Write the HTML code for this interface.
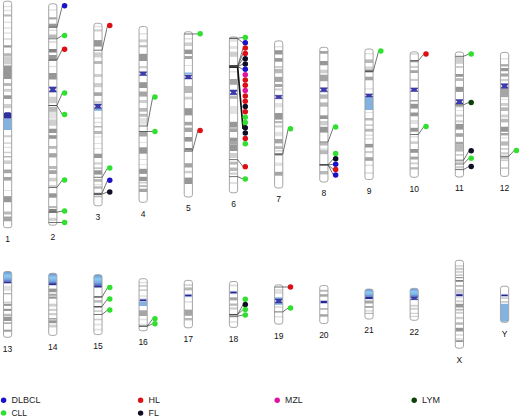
<!DOCTYPE html>
<html><head><meta charset="utf-8"><style>
html,body{margin:0;padding:0;background:#fff;}
body{width:520px;height:417px;overflow:hidden;font-family:"Liberation Sans",sans-serif;}
svg{display:block;font-family:"Liberation Sans",sans-serif;}
</style></head><body>
<svg width="520" height="417" viewBox="0 0 520 417">
<defs>
<linearGradient id="acro" x1="0" y1="0" x2="0" y2="1"><stop offset="0" stop-color="#b4d6f2"/><stop offset="0.18" stop-color="#6a9cd8"/><stop offset="0.5" stop-color="#8ecaf2"/><stop offset="0.8" stop-color="#78acE4"/><stop offset="1" stop-color="#4c6cc4"/></linearGradient>
<clipPath id="c1"><rect x="3.50" y="1.2" width="8.20" height="226.60" rx="2.6" ry="2.2"/></clipPath>
<clipPath id="c2"><rect x="48.68" y="3.8" width="8.20" height="221.40" rx="2.6" ry="2.2"/></clipPath>
<clipPath id="c3"><rect x="93.86" y="23.3" width="8.20" height="182.50" rx="2.6" ry="2.2"/></clipPath>
<clipPath id="c4"><rect x="139.04" y="26.5" width="8.20" height="175.80" rx="2.6" ry="2.2"/></clipPath>
<clipPath id="c5"><rect x="184.22" y="31.8" width="8.20" height="165.20" rx="2.6" ry="2.2"/></clipPath>
<clipPath id="c6"><rect x="229.40" y="36.9" width="8.20" height="155.90" rx="2.6" ry="2.2"/></clipPath>
<clipPath id="c7"><rect x="274.58" y="40.9" width="8.20" height="147.10" rx="2.6" ry="2.2"/></clipPath>
<clipPath id="c8"><rect x="319.76" y="47.3" width="8.20" height="134.70" rx="2.6" ry="2.2"/></clipPath>
<clipPath id="c9"><rect x="364.94" y="49" width="8.20" height="130.50" rx="2.6" ry="2.2"/></clipPath>
<clipPath id="c10"><rect x="410.12" y="51.9" width="8.20" height="125.40" rx="2.6" ry="2.2"/></clipPath>
<clipPath id="c11"><rect x="455.30" y="52" width="8.20" height="125.00" rx="2.6" ry="2.2"/></clipPath>
<clipPath id="c12"><rect x="500.48" y="52.4" width="8.20" height="124.00" rx="2.6" ry="2.2"/></clipPath>
<clipPath id="c13"><rect x="3.50" y="271.5" width="8.20" height="65.80" rx="2.6" ry="2.2"/></clipPath>
<clipPath id="c14"><rect x="48.68" y="273.3" width="8.20" height="62.10" rx="2.6" ry="2.2"/></clipPath>
<clipPath id="c15"><rect x="93.86" y="274.7" width="8.20" height="59.90" rx="2.6" ry="2.2"/></clipPath>
<clipPath id="c16"><rect x="139.04" y="278.7" width="8.20" height="52.10" rx="2.6" ry="2.2"/></clipPath>
<clipPath id="c17"><rect x="184.22" y="280.4" width="8.20" height="47.40" rx="2.6" ry="2.2"/></clipPath>
<clipPath id="c18"><rect x="229.40" y="281.5" width="8.20" height="45.90" rx="2.6" ry="2.2"/></clipPath>
<clipPath id="c19"><rect x="274.58" y="284.9" width="8.20" height="39.20" rx="2.6" ry="2.2"/></clipPath>
<clipPath id="c20"><rect x="319.76" y="285.5" width="8.20" height="38.00" rx="2.6" ry="2.2"/></clipPath>
<clipPath id="c21"><rect x="364.94" y="289.1" width="8.20" height="29.90" rx="2.6" ry="2.2"/></clipPath>
<clipPath id="c22"><rect x="410.12" y="288.4" width="8.20" height="31.90" rx="2.6" ry="2.2"/></clipPath>
<clipPath id="cX"><rect x="455.30" y="260.3" width="8.20" height="87.90" rx="2.6" ry="2.2"/></clipPath>
<clipPath id="cY"><rect x="500.48" y="286.2" width="8.20" height="36.10" rx="2.6" ry="2.2"/></clipPath>
</defs>
<g clip-path="url(#c1)">
<rect x="3.50" y="1.2" width="8.20" height="226.60" fill="#fff"/>
<rect x="3.50" y="5.8" width="8.20" height="1.40" fill="#e2e2e2"/>
<rect x="3.50" y="9.8" width="8.20" height="1.40" fill="#e2e2e2"/>
<rect x="3.50" y="14.4" width="8.20" height="2.10" fill="#b9b9b9"/>
<rect x="3.50" y="21.6" width="8.20" height="1.40" fill="#e2e2e2"/>
<rect x="3.50" y="27.3" width="8.20" height="1.50" fill="#e2e2e2"/>
<rect x="3.50" y="32.4" width="8.20" height="1.40" fill="#e2e2e2"/>
<rect x="3.50" y="38" width="8.20" height="2.00" fill="#e2e2e2"/>
<rect x="3.50" y="45.3" width="8.20" height="2.20" fill="#979797"/>
<rect x="3.50" y="53.2" width="8.20" height="3.20" fill="#b9b9b9"/>
<rect x="3.50" y="56.4" width="8.20" height="8.00" fill="#cfcfcf"/>
<rect x="3.50" y="65.5" width="8.20" height="13.50" fill="#979797"/>
<rect x="3.50" y="83" width="8.20" height="3.00" fill="#b9b9b9"/>
<rect x="3.50" y="88.8" width="8.20" height="2.90" fill="#cfcfcf"/>
<rect x="3.50" y="95.3" width="8.20" height="3.60" fill="#979797"/>
<rect x="3.50" y="104" width="8.20" height="4.20" fill="#cfcfcf"/>
<rect x="3.50" y="135.2" width="8.20" height="2.10" fill="#cfcfcf"/>
<rect x="3.50" y="142.4" width="8.20" height="1.40" fill="#cfcfcf"/>
<rect x="3.50" y="146.7" width="8.20" height="1.30" fill="#e2e2e2"/>
<rect x="3.50" y="151.7" width="8.20" height="1.50" fill="#cfcfcf"/>
<rect x="3.50" y="156" width="8.20" height="1.50" fill="#b9b9b9"/>
<rect x="3.50" y="160.4" width="8.20" height="3.60" fill="#cfcfcf"/>
<rect x="3.50" y="169.5" width="8.20" height="3.70" fill="#a5a5a5"/>
<rect x="3.50" y="177" width="8.20" height="3.60" fill="#a5a5a5"/>
<rect x="3.50" y="190" width="8.20" height="1.00" fill="#e2e2e2"/>
<rect x="3.50" y="196.2" width="8.20" height="6.00" fill="#979797"/>
<rect x="3.50" y="211.5" width="8.20" height="3.00" fill="#b9b9b9"/>
<rect x="3.50" y="216.5" width="8.20" height="4.80" fill="#a5a5a5"/>
<rect x="3.50" y="118.6" width="8.20" height="11.40" fill="#82b2e2"/>
<path d="M5.30 112.2H9.90L11.70 113.6V118.4H3.50V113.6Z" fill="#2e2e9e"/>
</g>
<rect x="3.50" y="1.2" width="8.20" height="226.60" rx="2.6" ry="2.2" fill="none" stroke="#9c9c9c" stroke-width="0.9"/>
<text x="7.60" y="242.20" text-anchor="middle" font-size="8.5" fill="#111">1</text>
<g clip-path="url(#c2)">
<rect x="48.68" y="3.8" width="8.20" height="221.40" fill="#fff"/>
<rect x="48.68" y="9.4" width="8.20" height="1.40" fill="#e2e2e2"/>
<rect x="48.68" y="17.3" width="8.20" height="2.10" fill="#a5a5a5"/>
<rect x="48.68" y="23.7" width="8.20" height="3.60" fill="#979797"/>
<rect x="48.68" y="29.5" width="8.20" height="1.50" fill="#e2e2e2"/>
<rect x="48.68" y="34.5" width="8.20" height="3.50" fill="#b9b9b9"/>
<rect x="48.68" y="41" width="8.20" height="2.00" fill="#e2e2e2"/>
<rect x="48.68" y="49" width="8.20" height="3.50" fill="#838383"/>
<rect x="48.68" y="55" width="8.20" height="5.80" fill="#979797"/>
<rect x="48.68" y="65.8" width="8.20" height="1.40" fill="#e2e2e2"/>
<rect x="48.68" y="73" width="8.20" height="6.50" fill="#979797"/>
<rect x="48.68" y="96.7" width="8.20" height="6.50" fill="#cfcfcf"/>
<rect x="48.68" y="106.8" width="8.20" height="5.00" fill="#b9b9b9"/>
<rect x="48.68" y="112" width="8.20" height="6.60" fill="#e2e2e2"/>
<rect x="48.68" y="119.4" width="8.20" height="6.40" fill="#cfcfcf"/>
<rect x="48.68" y="128.7" width="8.20" height="4.30" fill="#979797"/>
<rect x="48.68" y="135.2" width="8.20" height="3.60" fill="#979797"/>
<rect x="48.68" y="146" width="8.20" height="2.80" fill="#b9b9b9"/>
<rect x="48.68" y="153.2" width="8.20" height="4.30" fill="#a5a5a5"/>
<rect x="48.68" y="166" width="8.20" height="3.00" fill="#b9b9b9"/>
<rect x="48.68" y="170.2" width="8.20" height="3.80" fill="#a5a5a5"/>
<rect x="48.68" y="177.7" width="8.20" height="3.70" fill="#cfcfcf"/>
<rect x="48.68" y="185" width="8.20" height="2.30" fill="#cfcfcf"/>
<rect x="48.68" y="193.3" width="8.20" height="4.40" fill="#979797"/>
<rect x="48.68" y="206" width="8.20" height="2.00" fill="#b9b9b9"/>
<rect x="48.68" y="208.9" width="8.20" height="3.70" fill="#838383"/>
<rect x="48.68" y="217.8" width="8.20" height="3.00" fill="#cfcfcf"/>
<path d="M48.68 86.90H56.88L54.68 89.50L56.88 92.10H48.68L50.88 89.50Z" fill="#3c3cb0" stroke="#2a2a8c" stroke-width="0.5"/>
</g>
<rect x="48.68" y="3.8" width="8.20" height="221.40" rx="2.6" ry="2.2" fill="none" stroke="#9c9c9c" stroke-width="0.9"/>
<text x="52.78" y="239.60" text-anchor="middle" font-size="8.5" fill="#111">2</text>
<g clip-path="url(#c3)">
<rect x="93.86" y="23.3" width="8.20" height="182.50" fill="#fff"/>
<rect x="93.86" y="25.8" width="8.20" height="1.40" fill="#e2e2e2"/>
<rect x="93.86" y="29.4" width="8.20" height="2.10" fill="#cfcfcf"/>
<rect x="93.86" y="40.1" width="8.20" height="6.50" fill="#979797"/>
<rect x="93.86" y="52.4" width="8.20" height="5.00" fill="#cfcfcf"/>
<rect x="93.86" y="61" width="8.20" height="3.00" fill="#b9b9b9"/>
<rect x="93.86" y="74" width="8.20" height="3.00" fill="#cfcfcf"/>
<rect x="93.86" y="83" width="8.20" height="4.20" fill="#cfcfcf"/>
<rect x="93.86" y="92.3" width="8.20" height="3.60" fill="#a5a5a5"/>
<rect x="93.86" y="101" width="8.20" height="2.00" fill="#cfcfcf"/>
<rect x="93.86" y="117.4" width="8.20" height="1.50" fill="#e2e2e2"/>
<rect x="93.86" y="121.8" width="8.20" height="1.40" fill="#e2e2e2"/>
<rect x="93.86" y="126" width="8.20" height="1.50" fill="#b9b9b9"/>
<rect x="93.86" y="131" width="8.20" height="3.00" fill="#b9b9b9"/>
<rect x="93.86" y="136.5" width="8.20" height="1.00" fill="#e2e2e2"/>
<rect x="93.86" y="143" width="8.20" height="1.00" fill="#e2e2e2"/>
<rect x="93.86" y="148" width="8.20" height="1.00" fill="#e2e2e2"/>
<rect x="93.86" y="153.7" width="8.20" height="4.30" fill="#979797"/>
<rect x="93.86" y="162.4" width="8.20" height="2.10" fill="#cfcfcf"/>
<rect x="93.86" y="167.4" width="8.20" height="1.40" fill="#b9b9b9"/>
<rect x="93.86" y="170.3" width="8.20" height="4.30" fill="#979797"/>
<rect x="93.86" y="179" width="8.20" height="2.80" fill="#b9b9b9"/>
<rect x="93.86" y="184" width="8.20" height="1.20" fill="#e2e2e2"/>
<rect x="93.86" y="186.3" width="8.20" height="2.40" fill="#b9b9b9"/>
<rect x="93.86" y="193.3" width="8.20" height="1.70" fill="#838383"/>
<rect x="93.86" y="195.6" width="8.20" height="1.70" fill="#b9b9b9"/>
<rect x="93.86" y="108.8" width="8.20" height="2.00" fill="#82b2e2"/>
<path d="M93.86 104.00H102.06L99.86 106.30L102.06 108.60H93.86L96.06 106.30Z" fill="#3c3cb0" stroke="#2a2a8c" stroke-width="0.5"/>
</g>
<rect x="93.86" y="23.3" width="8.20" height="182.50" rx="2.6" ry="2.2" fill="none" stroke="#9c9c9c" stroke-width="0.9"/>
<text x="97.96" y="220.20" text-anchor="middle" font-size="8.5" fill="#111">3</text>
<g clip-path="url(#c4)">
<rect x="139.04" y="26.5" width="8.20" height="175.80" fill="#fff"/>
<rect x="139.04" y="33" width="8.20" height="1.40" fill="#e2e2e2"/>
<rect x="139.04" y="39.4" width="8.20" height="2.90" fill="#cfcfcf"/>
<rect x="139.04" y="45.2" width="8.20" height="2.10" fill="#b9b9b9"/>
<rect x="139.04" y="53.8" width="8.20" height="7.20" fill="#979797"/>
<rect x="139.04" y="66" width="8.20" height="2.20" fill="#cfcfcf"/>
<rect x="139.04" y="82.2" width="8.20" height="5.80" fill="#979797"/>
<rect x="139.04" y="91.5" width="8.20" height="5.10" fill="#a5a5a5"/>
<rect x="139.04" y="100" width="8.20" height="3.00" fill="#cfcfcf"/>
<rect x="139.04" y="108" width="8.20" height="3.70" fill="#b9b9b9"/>
<rect x="139.04" y="113.8" width="8.20" height="2.90" fill="#b9b9b9"/>
<rect x="139.04" y="118" width="8.20" height="6.60" fill="#e2e2e2"/>
<rect x="139.04" y="131" width="8.20" height="5.50" fill="#a5a5a5"/>
<rect x="139.04" y="142" width="8.20" height="1.00" fill="#e2e2e2"/>
<rect x="139.04" y="147.3" width="8.20" height="6.40" fill="#979797"/>
<rect x="139.04" y="159" width="8.20" height="1.00" fill="#e2e2e2"/>
<rect x="139.04" y="164" width="8.20" height="1.00" fill="#e2e2e2"/>
<rect x="139.04" y="168.8" width="8.20" height="5.10" fill="#979797"/>
<rect x="139.04" y="176.8" width="8.20" height="4.20" fill="#979797"/>
<rect x="139.04" y="181.7" width="8.20" height="1.80" fill="#cfcfcf"/>
<rect x="139.04" y="185.2" width="8.20" height="1.80" fill="#b9b9b9"/>
<rect x="139.04" y="188.7" width="8.20" height="3.30" fill="#a5a5a5"/>
<path d="M139.04 71.85H147.24L145.04 73.70L147.24 75.55H139.04L141.24 73.70Z" fill="#3c3cb0" stroke="#2a2a8c" stroke-width="0.5"/>
</g>
<rect x="139.04" y="26.5" width="8.20" height="175.80" rx="2.6" ry="2.2" fill="none" stroke="#9c9c9c" stroke-width="0.9"/>
<text x="143.14" y="216.70" text-anchor="middle" font-size="8.5" fill="#111">4</text>
<g clip-path="url(#c5)">
<rect x="184.22" y="31.8" width="8.20" height="165.20" fill="#fff"/>
<rect x="184.22" y="38" width="8.20" height="1.50" fill="#e2e2e2"/>
<rect x="184.22" y="42.4" width="8.20" height="3.60" fill="#cfcfcf"/>
<rect x="184.22" y="49.6" width="8.20" height="4.40" fill="#979797"/>
<rect x="184.22" y="56" width="8.20" height="3.00" fill="#a5a5a5"/>
<rect x="184.22" y="65" width="8.20" height="1.00" fill="#e2e2e2"/>
<rect x="184.22" y="72.6" width="8.20" height="1.40" fill="#e2e2e2"/>
<rect x="184.22" y="86" width="8.20" height="7.00" fill="#b9b9b9"/>
<rect x="184.22" y="96.7" width="8.20" height="2.80" fill="#cfcfcf"/>
<rect x="184.22" y="108.2" width="8.20" height="7.20" fill="#979797"/>
<rect x="184.22" y="121.8" width="8.20" height="3.60" fill="#a5a5a5"/>
<rect x="184.22" y="127.6" width="8.20" height="4.40" fill="#a5a5a5"/>
<rect x="184.22" y="137" width="8.20" height="4.60" fill="#979797"/>
<rect x="184.22" y="148" width="8.20" height="2.20" fill="#838383"/>
<rect x="184.22" y="150.2" width="8.20" height="1.80" fill="#cfcfcf"/>
<rect x="184.22" y="163.2" width="8.20" height="4.30" fill="#a5a5a5"/>
<rect x="184.22" y="170.8" width="8.20" height="2.50" fill="#cfcfcf"/>
<rect x="184.22" y="177.6" width="8.20" height="6.40" fill="#979797"/>
<rect x="184.22" y="72.6" width="8.20" height="1.40" fill="#82b2e2"/>
<path d="M184.22 74.90H192.42L190.22 76.90L192.42 78.90H184.22L186.42 76.90Z" fill="#3c3cb0" stroke="#2a2a8c" stroke-width="0.5"/>
</g>
<rect x="184.22" y="31.8" width="8.20" height="165.20" rx="2.6" ry="2.2" fill="none" stroke="#9c9c9c" stroke-width="0.9"/>
<text x="188.32" y="211.40" text-anchor="middle" font-size="8.5" fill="#111">5</text>
<g clip-path="url(#c6)">
<rect x="229.40" y="36.9" width="8.20" height="155.90" fill="#fff"/>
<rect x="229.40" y="39.5" width="8.20" height="2.20" fill="#e2e2e2"/>
<rect x="229.40" y="46" width="8.20" height="2.90" fill="#e2e2e2"/>
<rect x="229.40" y="51.7" width="8.20" height="5.10" fill="#cfcfcf"/>
<rect x="229.40" y="71" width="8.20" height="1.50" fill="#e2e2e2"/>
<rect x="229.40" y="79" width="8.20" height="5.80" fill="#a5a5a5"/>
<rect x="229.40" y="96" width="8.20" height="2.80" fill="#b9b9b9"/>
<rect x="229.40" y="106" width="8.20" height="8.00" fill="#e2e2e2"/>
<rect x="229.40" y="121.8" width="8.20" height="5.80" fill="#979797"/>
<rect x="229.40" y="128.3" width="8.20" height="3.70" fill="#a5a5a5"/>
<rect x="229.40" y="137.7" width="8.20" height="3.30" fill="#979797"/>
<rect x="229.40" y="141" width="8.20" height="3.50" fill="#a5a5a5"/>
<rect x="229.40" y="144.5" width="8.20" height="6.50" fill="#979797"/>
<rect x="229.40" y="153" width="8.20" height="5.00" fill="#cfcfcf"/>
<rect x="229.40" y="161.7" width="8.20" height="2.90" fill="#b9b9b9"/>
<rect x="229.40" y="167.5" width="8.20" height="3.50" fill="#b9b9b9"/>
<rect x="229.40" y="172.5" width="8.20" height="2.20" fill="#cfcfcf"/>
<rect x="229.40" y="182" width="8.20" height="2.00" fill="#e2e2e2"/>
<path d="M229.40 90.00H237.60L235.40 92.40L237.60 94.80H229.40L231.60 92.40Z" fill="#3c3cb0" stroke="#2a2a8c" stroke-width="0.5"/>
</g>
<rect x="229.40" y="36.9" width="8.20" height="155.90" rx="2.6" ry="2.2" fill="none" stroke="#9c9c9c" stroke-width="0.9"/>
<text x="233.50" y="207.20" text-anchor="middle" font-size="8.5" fill="#111">6</text>
<g clip-path="url(#c7)">
<rect x="274.58" y="40.9" width="8.20" height="147.10" fill="#fff"/>
<rect x="274.58" y="46" width="8.20" height="1.40" fill="#e2e2e2"/>
<rect x="274.58" y="50.2" width="8.20" height="4.30" fill="#979797"/>
<rect x="274.58" y="58.1" width="8.20" height="3.60" fill="#979797"/>
<rect x="274.58" y="66" width="8.20" height="2.20" fill="#cfcfcf"/>
<rect x="274.58" y="69" width="8.20" height="4.30" fill="#b9b9b9"/>
<rect x="274.58" y="76.8" width="8.20" height="5.10" fill="#a5a5a5"/>
<rect x="274.58" y="84" width="8.20" height="3.00" fill="#a5a5a5"/>
<rect x="274.58" y="88.4" width="8.20" height="2.10" fill="#cfcfcf"/>
<rect x="274.58" y="103" width="8.20" height="4.40" fill="#e2e2e2"/>
<rect x="274.58" y="113" width="8.20" height="6.60" fill="#979797"/>
<rect x="274.58" y="121" width="8.20" height="2.20" fill="#b9b9b9"/>
<rect x="274.58" y="125.4" width="8.20" height="2.10" fill="#cfcfcf"/>
<rect x="274.58" y="131.8" width="8.20" height="4.40" fill="#e2e2e2"/>
<rect x="274.58" y="139" width="8.20" height="4.40" fill="#a5a5a5"/>
<rect x="274.58" y="146.2" width="8.20" height="2.80" fill="#b9b9b9"/>
<rect x="274.58" y="150.2" width="8.20" height="1.30" fill="#cfcfcf"/>
<rect x="274.58" y="153.5" width="8.20" height="2.00" fill="#838383"/>
<rect x="274.58" y="162.6" width="8.20" height="3.40" fill="#e2e2e2"/>
<rect x="274.58" y="171.8" width="8.20" height="3.90" fill="#a5a5a5"/>
<path d="M274.58 95.30H282.78L280.58 97.00L282.78 98.70H274.58L276.78 97.00Z" fill="#3c3cb0" stroke="#2a2a8c" stroke-width="0.5"/>
</g>
<rect x="274.58" y="40.9" width="8.20" height="147.10" rx="2.6" ry="2.2" fill="none" stroke="#9c9c9c" stroke-width="0.9"/>
<text x="278.68" y="202.40" text-anchor="middle" font-size="8.5" fill="#111">7</text>
<g clip-path="url(#c8)">
<rect x="319.76" y="47.3" width="8.20" height="134.70" fill="#fff"/>
<rect x="319.76" y="51" width="8.20" height="2.80" fill="#a5a5a5"/>
<rect x="319.76" y="61" width="8.20" height="4.30" fill="#979797"/>
<rect x="319.76" y="69.7" width="8.20" height="3.60" fill="#cfcfcf"/>
<rect x="319.76" y="74.7" width="8.20" height="6.50" fill="#a5a5a5"/>
<rect x="319.76" y="94.4" width="8.20" height="4.40" fill="#b9b9b9"/>
<rect x="319.76" y="102.4" width="8.20" height="4.30" fill="#b9b9b9"/>
<rect x="319.76" y="115.3" width="8.20" height="3.70" fill="#979797"/>
<rect x="319.76" y="121" width="8.20" height="4.40" fill="#cfcfcf"/>
<rect x="319.76" y="126.8" width="8.20" height="5.80" fill="#979797"/>
<rect x="319.76" y="142.6" width="8.20" height="2.90" fill="#b9b9b9"/>
<rect x="319.76" y="148.3" width="8.20" height="1.90" fill="#e2e2e2"/>
<rect x="319.76" y="150.2" width="8.20" height="4.00" fill="#b9b9b9"/>
<rect x="319.76" y="171" width="8.20" height="3.40" fill="#b9b9b9"/>
<path d="M319.76 87.80H327.96L325.76 89.80L327.96 91.80H319.76L321.96 89.80Z" fill="#3c3cb0" stroke="#2a2a8c" stroke-width="0.5"/>
</g>
<rect x="319.76" y="47.3" width="8.20" height="134.70" rx="2.6" ry="2.2" fill="none" stroke="#9c9c9c" stroke-width="0.9"/>
<text x="323.86" y="196.40" text-anchor="middle" font-size="8.5" fill="#111">8</text>
<g clip-path="url(#c9)">
<rect x="364.94" y="49" width="8.20" height="130.50" fill="#fff"/>
<rect x="364.94" y="53" width="8.20" height="1.40" fill="#e2e2e2"/>
<rect x="364.94" y="59.4" width="8.20" height="3.60" fill="#b9b9b9"/>
<rect x="364.94" y="66.6" width="8.20" height="2.10" fill="#cfcfcf"/>
<rect x="364.94" y="69.5" width="8.20" height="2.80" fill="#838383"/>
<rect x="364.94" y="76.7" width="8.20" height="3.60" fill="#a5a5a5"/>
<rect x="364.94" y="88.2" width="8.20" height="1.40" fill="#e2e2e2"/>
<rect x="364.94" y="112" width="8.20" height="1.00" fill="#e2e2e2"/>
<rect x="364.94" y="118" width="8.20" height="2.50" fill="#b9b9b9"/>
<rect x="364.94" y="124.3" width="8.20" height="1.70" fill="#cfcfcf"/>
<rect x="364.94" y="128.8" width="8.20" height="2.90" fill="#b9b9b9"/>
<rect x="364.94" y="134.5" width="8.20" height="1.50" fill="#e2e2e2"/>
<rect x="364.94" y="138" width="8.20" height="1.60" fill="#e2e2e2"/>
<rect x="364.94" y="143.9" width="8.20" height="3.60" fill="#979797"/>
<rect x="364.94" y="151" width="8.20" height="2.20" fill="#cfcfcf"/>
<rect x="364.94" y="157.2" width="8.20" height="3.60" fill="#a5a5a5"/>
<rect x="364.94" y="164.4" width="8.20" height="1.80" fill="#e2e2e2"/>
<rect x="364.94" y="172.2" width="8.20" height="1.80" fill="#e2e2e2"/>
<rect x="364.94" y="96.8" width="8.20" height="13.20" fill="#82b2e2"/>
<path d="M364.94 93.90H373.14L370.94 95.40L373.14 96.90H364.94L367.14 95.40Z" fill="#3c3cb0" stroke="#2a2a8c" stroke-width="0.5"/>
</g>
<rect x="364.94" y="49" width="8.20" height="130.50" rx="2.6" ry="2.2" fill="none" stroke="#9c9c9c" stroke-width="0.9"/>
<text x="369.04" y="193.90" text-anchor="middle" font-size="8.5" fill="#111">9</text>
<g clip-path="url(#c10)">
<rect x="410.12" y="51.9" width="8.20" height="125.40" fill="#fff"/>
<rect x="410.12" y="53" width="8.20" height="2.00" fill="#e2e2e2"/>
<rect x="410.12" y="60" width="8.20" height="2.30" fill="#a5a5a5"/>
<rect x="410.12" y="65.9" width="8.20" height="2.10" fill="#cfcfcf"/>
<rect x="410.12" y="70.2" width="8.20" height="2.80" fill="#a5a5a5"/>
<rect x="410.12" y="78.8" width="8.20" height="2.20" fill="#cfcfcf"/>
<rect x="410.12" y="100" width="8.20" height="1.50" fill="#a5a5a5"/>
<rect x="410.12" y="103.8" width="8.20" height="4.80" fill="#979797"/>
<rect x="410.12" y="112.5" width="8.20" height="3.80" fill="#979797"/>
<rect x="410.12" y="120" width="8.20" height="4.00" fill="#e2e2e2"/>
<rect x="410.12" y="127.8" width="8.20" height="3.90" fill="#979797"/>
<rect x="410.12" y="136" width="8.20" height="1.50" fill="#e2e2e2"/>
<rect x="410.12" y="141.3" width="8.20" height="2.70" fill="#cfcfcf"/>
<rect x="410.12" y="149" width="8.20" height="3.80" fill="#979797"/>
<rect x="410.12" y="156.6" width="8.20" height="2.90" fill="#a5a5a5"/>
<rect x="410.12" y="162.4" width="8.20" height="1.90" fill="#cfcfcf"/>
<rect x="410.12" y="167.2" width="8.20" height="2.30" fill="#b9b9b9"/>
<path d="M410.12 87.90H418.32L416.12 89.70L418.32 91.50H410.12L412.32 89.70Z" fill="#3c3cb0" stroke="#2a2a8c" stroke-width="0.5"/>
</g>
<rect x="410.12" y="51.9" width="8.20" height="125.40" rx="2.6" ry="2.2" fill="none" stroke="#9c9c9c" stroke-width="0.9"/>
<text x="414.22" y="191.70" text-anchor="middle" font-size="8.5" fill="#111">10</text>
<g clip-path="url(#c11)">
<rect x="455.30" y="52" width="8.20" height="125.00" fill="#fff"/>
<rect x="455.30" y="56.6" width="8.20" height="7.20" fill="#cfcfcf"/>
<rect x="455.30" y="66" width="8.20" height="2.00" fill="#cfcfcf"/>
<rect x="455.30" y="74" width="8.20" height="2.80" fill="#979797"/>
<rect x="455.30" y="78.2" width="8.20" height="2.80" fill="#b9b9b9"/>
<rect x="455.30" y="86.8" width="8.20" height="5.10" fill="#979797"/>
<rect x="455.30" y="105" width="8.20" height="2.30" fill="#b9b9b9"/>
<rect x="455.30" y="110" width="8.20" height="1.00" fill="#e2e2e2"/>
<rect x="455.30" y="114.5" width="8.20" height="2.20" fill="#cfcfcf"/>
<rect x="455.30" y="120.3" width="8.20" height="2.10" fill="#cfcfcf"/>
<rect x="455.30" y="123.9" width="8.20" height="5.70" fill="#979797"/>
<rect x="455.30" y="133.2" width="8.20" height="3.60" fill="#a5a5a5"/>
<rect x="455.30" y="141.8" width="8.20" height="2.90" fill="#a5a5a5"/>
<rect x="455.30" y="144.7" width="8.20" height="6.90" fill="#b9b9b9"/>
<rect x="455.30" y="154" width="8.20" height="1.80" fill="#cfcfcf"/>
<rect x="455.30" y="161.2" width="8.20" height="1.80" fill="#cfcfcf"/>
<rect x="455.30" y="166" width="8.20" height="2.40" fill="#cfcfcf"/>
<path d="M455.30 99.60H463.50L461.30 101.80L463.50 104.00H455.30L457.50 101.80Z" fill="#3c3cb0" stroke="#2a2a8c" stroke-width="0.5"/>
</g>
<rect x="455.30" y="52" width="8.20" height="125.00" rx="2.6" ry="2.2" fill="none" stroke="#9c9c9c" stroke-width="0.9"/>
<text x="459.40" y="191.40" text-anchor="middle" font-size="8.5" fill="#111">11</text>
<g clip-path="url(#c12)">
<rect x="500.48" y="52.4" width="8.20" height="124.00" fill="#fff"/>
<rect x="500.48" y="58" width="8.20" height="1.50" fill="#e2e2e2"/>
<rect x="500.48" y="64.2" width="8.20" height="2.20" fill="#a5a5a5"/>
<rect x="500.48" y="68" width="8.20" height="3.20" fill="#979797"/>
<rect x="500.48" y="73.4" width="8.20" height="3.20" fill="#a5a5a5"/>
<rect x="500.48" y="78.8" width="8.20" height="2.40" fill="#cfcfcf"/>
<rect x="500.48" y="88.3" width="8.20" height="8.90" fill="#a5a5a5"/>
<rect x="500.48" y="99" width="8.20" height="1.00" fill="#e2e2e2"/>
<rect x="500.48" y="103" width="8.20" height="3.00" fill="#cfcfcf"/>
<rect x="500.48" y="107.3" width="8.20" height="3.70" fill="#b9b9b9"/>
<rect x="500.48" y="114.5" width="8.20" height="2.90" fill="#cfcfcf"/>
<rect x="500.48" y="118.8" width="8.20" height="3.60" fill="#b9b9b9"/>
<rect x="500.48" y="126.7" width="8.20" height="5.10" fill="#979797"/>
<rect x="500.48" y="133" width="8.20" height="2.40" fill="#a5a5a5"/>
<rect x="500.48" y="137.2" width="8.20" height="1.20" fill="#e2e2e2"/>
<rect x="500.48" y="141.4" width="8.20" height="4.20" fill="#b9b9b9"/>
<rect x="500.48" y="148" width="8.20" height="1.80" fill="#cfcfcf"/>
<rect x="500.48" y="152.2" width="8.20" height="2.40" fill="#cfcfcf"/>
<rect x="500.48" y="156.4" width="8.20" height="2.40" fill="#b9b9b9"/>
<rect x="500.48" y="159.4" width="8.20" height="1.80" fill="#cfcfcf"/>
<rect x="500.48" y="167.2" width="8.20" height="1.80" fill="#cfcfcf"/>
<path d="M500.48 83.70H508.68L506.48 86.00L508.68 88.30H500.48L502.68 86.00Z" fill="#3c3cb0" stroke="#2a2a8c" stroke-width="0.5"/>
</g>
<rect x="500.48" y="52.4" width="8.20" height="124.00" rx="2.6" ry="2.2" fill="none" stroke="#9c9c9c" stroke-width="0.9"/>
<text x="504.58" y="190.80" text-anchor="middle" font-size="8.5" fill="#111">12</text>
<g clip-path="url(#c13)">
<rect x="3.50" y="271.5" width="8.20" height="65.80" fill="#fff"/>
<rect x="3.50" y="285.8" width="8.20" height="5.00" fill="#e2e2e2"/>
<rect x="3.50" y="293" width="8.20" height="1.40" fill="#b9b9b9"/>
<rect x="3.50" y="301.6" width="8.20" height="1.40" fill="#cfcfcf"/>
<rect x="3.50" y="303.7" width="8.20" height="2.20" fill="#979797"/>
<rect x="3.50" y="308.8" width="8.20" height="2.20" fill="#979797"/>
<rect x="3.50" y="313.8" width="8.20" height="2.20" fill="#b9b9b9"/>
<rect x="3.50" y="316.7" width="8.20" height="4.30" fill="#979797"/>
<rect x="3.50" y="322.4" width="8.20" height="1.50" fill="#a5a5a5"/>
<rect x="3.50" y="329.6" width="8.20" height="2.20" fill="#a5a5a5"/>
<rect x="3.50" y="270" width="8.20" height="11.50" fill="url(#acro)"/>
<rect x="3.50" y="281.50" width="8.20" height="1.80" fill="#2c2c96"/>
</g>
<rect x="3.50" y="271.5" width="8.20" height="65.80" rx="2.6" ry="2.2" fill="none" stroke="#9c9c9c" stroke-width="0.9"/>
<text x="7.60" y="351.70" text-anchor="middle" font-size="8.5" fill="#111">13</text>
<g clip-path="url(#c14)">
<rect x="48.68" y="273.3" width="8.20" height="62.10" fill="#fff"/>
<rect x="48.68" y="288.6" width="8.20" height="3.60" fill="#979797"/>
<rect x="48.68" y="293.7" width="8.20" height="2.10" fill="#a5a5a5"/>
<rect x="48.68" y="296.5" width="8.20" height="2.20" fill="#979797"/>
<rect x="48.68" y="303.7" width="8.20" height="2.90" fill="#cfcfcf"/>
<rect x="48.68" y="308.8" width="8.20" height="2.20" fill="#cfcfcf"/>
<rect x="48.68" y="313" width="8.20" height="2.30" fill="#cfcfcf"/>
<rect x="48.68" y="318" width="8.20" height="1.60" fill="#a5a5a5"/>
<rect x="48.68" y="320.3" width="8.20" height="2.90" fill="#979797"/>
<rect x="48.68" y="324.6" width="8.20" height="2.90" fill="#cfcfcf"/>
<rect x="48.68" y="272" width="8.20" height="11.30" fill="url(#acro)"/>
<rect x="48.68" y="283.20" width="8.20" height="2.00" fill="#2c2c96"/>
</g>
<rect x="48.68" y="273.3" width="8.20" height="62.10" rx="2.6" ry="2.2" fill="none" stroke="#9c9c9c" stroke-width="0.9"/>
<text x="52.78" y="349.80" text-anchor="middle" font-size="8.5" fill="#111">14</text>
<g clip-path="url(#c15)">
<rect x="93.86" y="274.7" width="8.20" height="59.90" fill="#fff"/>
<rect x="93.86" y="296" width="8.20" height="1.70" fill="#979797"/>
<rect x="93.86" y="300.2" width="8.20" height="2.50" fill="#b9b9b9"/>
<rect x="93.86" y="306" width="8.20" height="1.70" fill="#838383"/>
<rect x="93.86" y="310.3" width="8.20" height="1.70" fill="#cfcfcf"/>
<rect x="93.86" y="318.7" width="8.20" height="1.60" fill="#cfcfcf"/>
<rect x="93.86" y="323.7" width="8.20" height="1.70" fill="#e2e2e2"/>
<rect x="93.86" y="328.7" width="8.20" height="1.70" fill="#e2e2e2"/>
<rect x="93.86" y="273" width="8.20" height="12.10" fill="url(#acro)"/>
<rect x="93.86" y="285.30" width="8.20" height="2.20" fill="#2c2c96"/>
</g>
<rect x="93.86" y="274.7" width="8.20" height="59.90" rx="2.6" ry="2.2" fill="none" stroke="#9c9c9c" stroke-width="0.9"/>
<text x="97.96" y="349.00" text-anchor="middle" font-size="8.5" fill="#111">15</text>
<g clip-path="url(#c16)">
<rect x="139.04" y="278.7" width="8.20" height="52.10" fill="#fff"/>
<rect x="139.04" y="281.7" width="8.20" height="1.70" fill="#e2e2e2"/>
<rect x="139.04" y="285" width="8.20" height="1.80" fill="#cfcfcf"/>
<rect x="139.04" y="289.3" width="8.20" height="1.70" fill="#cfcfcf"/>
<rect x="139.04" y="295.2" width="8.20" height="1.60" fill="#e2e2e2"/>
<rect x="139.04" y="310.3" width="8.20" height="5.70" fill="#a5a5a5"/>
<rect x="139.04" y="318.7" width="8.20" height="1.60" fill="#e2e2e2"/>
<rect x="139.04" y="323.7" width="8.20" height="1.70" fill="#e2e2e2"/>
<rect x="139.04" y="301" width="8.20" height="5.00" fill="#82b2e2"/>
<rect x="139.04" y="298.50" width="8.20" height="3.40" fill="#b8c0ec"/>
<rect x="139.94" y="299.40" width="6.40" height="1.60" rx="0.6" fill="#26268a"/>
</g>
<rect x="139.04" y="278.7" width="8.20" height="52.10" rx="2.6" ry="2.2" fill="none" stroke="#9c9c9c" stroke-width="0.9"/>
<text x="143.14" y="345.20" text-anchor="middle" font-size="8.5" fill="#111">16</text>
<g clip-path="url(#c17)">
<rect x="184.22" y="280.4" width="8.20" height="47.40" fill="#fff"/>
<rect x="184.22" y="284.3" width="8.20" height="1.50" fill="#cfcfcf"/>
<rect x="184.22" y="287.4" width="8.20" height="3.00" fill="#b9b9b9"/>
<rect x="184.22" y="301" width="8.20" height="1.70" fill="#e2e2e2"/>
<rect x="184.22" y="309.6" width="8.20" height="6.20" fill="#a5a5a5"/>
<rect x="184.22" y="318" width="8.20" height="2.40" fill="#b9b9b9"/>
<rect x="184.22" y="293.80" width="8.20" height="3.40" fill="#b8c0ec"/>
<rect x="185.12" y="294.70" width="6.40" height="1.60" rx="0.6" fill="#26268a"/>
</g>
<rect x="184.22" y="280.4" width="8.20" height="47.40" rx="2.6" ry="2.2" fill="none" stroke="#9c9c9c" stroke-width="0.9"/>
<text x="188.32" y="342.20" text-anchor="middle" font-size="8.5" fill="#111">17</text>
<g clip-path="url(#c18)">
<rect x="229.40" y="281.5" width="8.20" height="45.90" fill="#fff"/>
<rect x="229.40" y="284.3" width="8.20" height="2.30" fill="#e2e2e2"/>
<rect x="229.40" y="297.3" width="8.20" height="3.10" fill="#a5a5a5"/>
<rect x="229.40" y="303.5" width="8.20" height="2.30" fill="#b9b9b9"/>
<rect x="229.40" y="307.3" width="8.20" height="2.30" fill="#cfcfcf"/>
<rect x="229.40" y="313.8" width="8.20" height="3.70" fill="#cfcfcf"/>
<rect x="229.40" y="321" width="8.20" height="1.70" fill="#e2e2e2"/>
<rect x="229.40" y="290.85" width="8.20" height="3.30" fill="#b8c0ec"/>
<rect x="230.30" y="291.75" width="6.40" height="1.50" rx="0.6" fill="#26268a"/>
</g>
<rect x="229.40" y="281.5" width="8.20" height="45.90" rx="2.6" ry="2.2" fill="none" stroke="#9c9c9c" stroke-width="0.9"/>
<text x="233.50" y="341.80" text-anchor="middle" font-size="8.5" fill="#111">18</text>
<g clip-path="url(#c19)">
<rect x="274.58" y="284.9" width="8.20" height="39.20" fill="#fff"/>
<rect x="274.58" y="289" width="8.20" height="5.00" fill="#e2e2e2"/>
<rect x="274.58" y="306" width="8.20" height="2.00" fill="#e2e2e2"/>
<rect x="274.58" y="316" width="8.20" height="1.50" fill="#e2e2e2"/>
<rect x="274.58" y="297.3" width="8.20" height="1.90" fill="#82b2e2"/>
<rect x="274.58" y="303" width="8.20" height="1.80" fill="#82b2e2"/>
<path d="M274.58 299.10H282.78L280.58 301.00L282.78 302.90H274.58L276.78 301.00Z" fill="#3c3cb0" stroke="#2a2a8c" stroke-width="0.5"/>
</g>
<rect x="274.58" y="284.9" width="8.20" height="39.20" rx="2.6" ry="2.2" fill="none" stroke="#9c9c9c" stroke-width="0.9"/>
<text x="278.68" y="338.50" text-anchor="middle" font-size="8.5" fill="#111">19</text>
<g clip-path="url(#c20)">
<rect x="319.76" y="285.5" width="8.20" height="38.00" fill="#fff"/>
<rect x="319.76" y="289.8" width="8.20" height="1.90" fill="#b9b9b9"/>
<rect x="319.76" y="294.2" width="8.20" height="2.50" fill="#a5a5a5"/>
<rect x="319.76" y="308" width="8.20" height="1.80" fill="#b9b9b9"/>
<rect x="319.76" y="314.2" width="8.20" height="2.50" fill="#a5a5a5"/>
<rect x="319.76" y="300.20" width="8.20" height="3.60" fill="#b8c0ec"/>
<rect x="320.66" y="301.10" width="6.40" height="1.80" rx="0.6" fill="#26268a"/>
</g>
<rect x="319.76" y="285.5" width="8.20" height="38.00" rx="2.6" ry="2.2" fill="none" stroke="#9c9c9c" stroke-width="0.9"/>
<text x="323.86" y="337.90" text-anchor="middle" font-size="8.5" fill="#111">20</text>
<g clip-path="url(#c21)">
<rect x="364.94" y="289.1" width="8.20" height="29.90" fill="#fff"/>
<rect x="364.94" y="300.5" width="8.20" height="3.00" fill="#a5a5a5"/>
<rect x="364.94" y="306" width="8.20" height="1.80" fill="#a5a5a5"/>
<rect x="364.94" y="310.3" width="8.20" height="1.20" fill="#cfcfcf"/>
<rect x="364.94" y="312.8" width="8.20" height="1.20" fill="#b9b9b9"/>
<rect x="364.94" y="288" width="8.20" height="8.80" fill="url(#acro)"/>
<rect x="364.94" y="296.90" width="8.20" height="2.20" fill="#2c2c96"/>
</g>
<rect x="364.94" y="289.1" width="8.20" height="29.90" rx="2.6" ry="2.2" fill="none" stroke="#9c9c9c" stroke-width="0.9"/>
<text x="369.04" y="333.40" text-anchor="middle" font-size="8.5" fill="#111">21</text>
<g clip-path="url(#c22)">
<rect x="410.12" y="288.4" width="8.20" height="31.90" fill="#fff"/>
<rect x="410.12" y="304.8" width="8.20" height="1.80" fill="#cfcfcf"/>
<rect x="410.12" y="307.8" width="8.20" height="1.90" fill="#cfcfcf"/>
<rect x="410.12" y="312.8" width="8.20" height="1.20" fill="#cfcfcf"/>
<rect x="410.12" y="315.8" width="8.20" height="1.20" fill="#cfcfcf"/>
<rect x="410.12" y="287" width="8.20" height="9.80" fill="url(#acro)"/>
<path d="M410.12 296.90H418.32L416.12 298.30L418.32 299.70H410.12L412.32 298.30Z" fill="#3c3cb0" stroke="#2a2a8c" stroke-width="0.5"/>
</g>
<rect x="410.12" y="288.4" width="8.20" height="31.90" rx="2.6" ry="2.2" fill="none" stroke="#9c9c9c" stroke-width="0.9"/>
<text x="414.22" y="334.70" text-anchor="middle" font-size="8.5" fill="#111">22</text>
<g clip-path="url(#cX)">
<rect x="455.30" y="260.3" width="8.20" height="87.90" fill="#fff"/>
<rect x="455.30" y="265.2" width="8.20" height="1.30" fill="#cfcfcf"/>
<rect x="455.30" y="267.7" width="8.20" height="2.50" fill="#cfcfcf"/>
<rect x="455.30" y="271.4" width="8.20" height="1.20" fill="#b9b9b9"/>
<rect x="455.30" y="274.5" width="8.20" height="1.20" fill="#b9b9b9"/>
<rect x="455.30" y="277" width="8.20" height="1.20" fill="#979797"/>
<rect x="455.30" y="280" width="8.20" height="1.80" fill="#838383"/>
<rect x="455.30" y="285" width="8.20" height="1.80" fill="#b9b9b9"/>
<rect x="455.30" y="289.2" width="8.20" height="3.80" fill="#cfcfcf"/>
<rect x="455.30" y="296.6" width="8.20" height="1.90" fill="#e2e2e2"/>
<rect x="455.30" y="300.3" width="8.20" height="1.90" fill="#cfcfcf"/>
<rect x="455.30" y="303.8" width="8.20" height="3.70" fill="#979797"/>
<rect x="455.30" y="308.8" width="8.20" height="1.80" fill="#b9b9b9"/>
<rect x="455.30" y="311.8" width="8.20" height="1.90" fill="#cfcfcf"/>
<rect x="455.30" y="316.8" width="8.20" height="2.40" fill="#cfcfcf"/>
<rect x="455.30" y="322.3" width="8.20" height="2.50" fill="#b9b9b9"/>
<rect x="455.30" y="327.8" width="8.20" height="3.70" fill="#979797"/>
<rect x="455.30" y="334" width="8.20" height="2.00" fill="#e2e2e2"/>
<rect x="455.30" y="338.3" width="8.20" height="1.20" fill="#cfcfcf"/>
<rect x="455.30" y="340.2" width="8.20" height="1.80" fill="#979797"/>
<rect x="455.30" y="293.30" width="8.20" height="3.60" fill="#b8c0ec"/>
<rect x="456.20" y="294.20" width="6.40" height="1.80" rx="0.6" fill="#26268a"/>
</g>
<rect x="455.30" y="260.3" width="8.20" height="87.90" rx="2.6" ry="2.2" fill="none" stroke="#9c9c9c" stroke-width="0.9"/>
<text x="459.40" y="362.60" text-anchor="middle" font-size="8.5" fill="#111">X</text>
<g clip-path="url(#cY)">
<rect x="500.48" y="286.2" width="8.20" height="36.10" fill="#fff"/>
<rect x="500.48" y="297.2" width="8.20" height="1.80" fill="#cfcfcf"/>
<rect x="500.48" y="301" width="8.20" height="1.80" fill="#cfcfcf"/>
<rect x="500.48" y="303.8" width="8.20" height="17.90" fill="#82b2e2"/>
<rect x="500.48" y="293.90" width="8.20" height="3.00" fill="#b8c0ec"/>
<rect x="501.38" y="294.80" width="6.40" height="1.20" rx="0.6" fill="#26268a"/>
</g>
<rect x="500.48" y="286.2" width="8.20" height="36.10" rx="2.6" ry="2.2" fill="none" stroke="#9c9c9c" stroke-width="0.9"/>
<text x="504.58" y="336.70" text-anchor="middle" font-size="8.5" fill="#111">Y</text>
<path d="M229.40 66.6H237.60L243.10 129" fill="none" stroke="#111" stroke-width="1.7"/>
<rect x="229.40" y="65.3" width="8.80" height="2.5" fill="#151515"/>
<path d="M48.68 27.3H56.88L62.38 5.7" fill="none" stroke="#444" stroke-width="0.75"/>
<path d="M48.68 38.8H56.88L62.38 35.5" fill="none" stroke="#444" stroke-width="0.75"/>
<path d="M48.68 60H56.88L62.38 49.3" fill="none" stroke="#444" stroke-width="0.75"/>
<path d="M48.68 105.5H56.88L62.38 93" fill="none" stroke="#444" stroke-width="0.75"/>
<path d="M48.68 105.5H56.88L62.38 114.5" fill="none" stroke="#444" stroke-width="0.75"/>
<path d="M48.68 187.5H56.88L62.38 180" fill="none" stroke="#444" stroke-width="0.75"/>
<path d="M48.68 212.2H56.88L62.38 211" fill="none" stroke="#444" stroke-width="0.75"/>
<path d="M48.68 222.5H56.88L62.38 222.5" fill="none" stroke="#444" stroke-width="0.75"/>
<path d="M93.86 50.2H102.06L107.56 25.5" fill="none" stroke="#444" stroke-width="0.75"/>
<path d="M93.86 177.3H102.06L107.56 168.1" fill="none" stroke="#444" stroke-width="0.75"/>
<path d="M93.86 193.3H102.06L107.56 180.3" fill="none" stroke="#444" stroke-width="0.75"/>
<path d="M93.86 194.2H102.06L107.56 191.9" fill="none" stroke="#444" stroke-width="0.75"/>
<path d="M139.04 126H147.24L152.74 97" fill="none" stroke="#444" stroke-width="0.75"/>
<path d="M139.04 131.5H147.24L152.74 131.5" fill="none" stroke="#444" stroke-width="0.75"/>
<path d="M184.22 34H192.42L197.92 33.8" fill="none" stroke="#444" stroke-width="0.75"/>
<path d="M184.22 151H192.42L197.92 130.5" fill="none" stroke="#444" stroke-width="0.75"/>
<path d="M274.58 154H282.78L288.28 128.7" fill="none" stroke="#444" stroke-width="0.75"/>
<path d="M319.76 142H327.96L333.46 127" fill="none" stroke="#444" stroke-width="0.75"/>
<path d="M319.76 164.8H327.96L333.46 158.7" fill="none" stroke="#444" stroke-width="0.75"/>
<path d="M319.76 164.8H327.96L333.46 164.3" fill="none" stroke="#444" stroke-width="0.75"/>
<path d="M319.76 164.8H327.96L333.46 169.6" fill="none" stroke="#444" stroke-width="0.75"/>
<path d="M319.76 164.8H327.96L333.46 175" fill="none" stroke="#444" stroke-width="0.75"/>
<path d="M364.94 71.6H373.14L378.64 51" fill="none" stroke="#444" stroke-width="0.75"/>
<path d="M410.12 60.8H418.32L423.82 54" fill="none" stroke="#444" stroke-width="0.75"/>
<path d="M410.12 134.5H418.32L423.82 126.5" fill="none" stroke="#444" stroke-width="0.75"/>
<path d="M455.30 56.3H463.50L469.00 54" fill="none" stroke="#444" stroke-width="0.75"/>
<path d="M455.30 104.8H463.50L469.00 102.4" fill="none" stroke="#444" stroke-width="0.75"/>
<path d="M455.30 160.2H463.50L469.00 150.8" fill="none" stroke="#444" stroke-width="0.75"/>
<path d="M455.30 164H463.50L469.00 158.2" fill="none" stroke="#444" stroke-width="0.75"/>
<path d="M455.30 169.6H463.50L469.00 166.4" fill="none" stroke="#444" stroke-width="0.75"/>
<path d="M500.48 156.3H508.68L514.18 150.5" fill="none" stroke="#444" stroke-width="0.75"/>
<path d="M93.86 297H102.06L107.56 287.6" fill="none" stroke="#444" stroke-width="0.75"/>
<path d="M93.86 306.5H102.06L107.56 298.9" fill="none" stroke="#444" stroke-width="0.75"/>
<path d="M93.86 314.5H102.06L107.56 310" fill="none" stroke="#444" stroke-width="0.75"/>
<path d="M139.04 326.2H147.24L152.74 318.7" fill="none" stroke="#444" stroke-width="0.75"/>
<path d="M139.04 326.2H147.24L152.74 323.7" fill="none" stroke="#444" stroke-width="0.75"/>
<path d="M229.40 314.5H237.60L243.10 304.6" fill="none" stroke="#444" stroke-width="0.75"/>
<path d="M229.40 314.5H237.60L243.10 309.6" fill="none" stroke="#444" stroke-width="0.75"/>
<path d="M229.40 316.2H237.60L243.10 315" fill="none" stroke="#444" stroke-width="0.75"/>
<path d="M274.58 287H282.78L288.28 287" fill="none" stroke="#444" stroke-width="0.75"/>
<path d="M274.58 311.9H282.78L288.28 307.9" fill="none" stroke="#444" stroke-width="0.75"/>
<path d="M229.40 38.2H237.60L243.10 37.5" fill="none" stroke="#444" stroke-width="0.75"/>
<path d="M229.40 38.6H237.60L243.10 42.8" fill="none" stroke="#444" stroke-width="0.75"/>
<path d="M229.40 66.6H237.60L243.10 48.12" fill="none" stroke="#444" stroke-width="0.75"/>
<path d="M229.40 66.6H237.60L243.10 53.43" fill="none" stroke="#444" stroke-width="0.75"/>
<path d="M229.40 66.6H237.60L243.10 58.739999999999995" fill="none" stroke="#444" stroke-width="0.75"/>
<path d="M229.40 66.6H237.60L243.10 64.05" fill="none" stroke="#444" stroke-width="0.75"/>
<path d="M229.40 66.6H237.60L243.10 69.36" fill="none" stroke="#444" stroke-width="0.75"/>
<path d="M229.40 159.6H237.60L243.10 166.7" fill="none" stroke="#444" stroke-width="0.75"/>
<path d="M229.40 176.6H237.60L243.10 179" fill="none" stroke="#444" stroke-width="0.75"/>
<circle cx="64.58" cy="5.7" r="2.75" fill="#1a12c8"/>
<circle cx="64.58" cy="35.5" r="2.75" fill="#2fe02f"/>
<circle cx="64.58" cy="49.3" r="2.75" fill="#dc1014"/>
<circle cx="64.58" cy="93" r="2.75" fill="#2fe02f"/>
<circle cx="64.58" cy="114.5" r="2.75" fill="#2fe02f"/>
<circle cx="64.58" cy="180" r="2.75" fill="#2fe02f"/>
<circle cx="64.58" cy="211" r="2.75" fill="#2fe02f"/>
<circle cx="64.58" cy="222.5" r="2.75" fill="#2fe02f"/>
<circle cx="109.76" cy="25.5" r="2.75" fill="#dc1014"/>
<circle cx="109.76" cy="168.1" r="2.75" fill="#2fe02f"/>
<circle cx="109.76" cy="180.3" r="2.75" fill="#1a12c8"/>
<circle cx="109.76" cy="191.9" r="2.75" fill="#0e0e26"/>
<circle cx="154.94" cy="97" r="2.75" fill="#2fe02f"/>
<circle cx="154.94" cy="131.5" r="2.75" fill="#2fe02f"/>
<circle cx="200.12" cy="33.8" r="2.75" fill="#2fe02f"/>
<circle cx="200.12" cy="130.5" r="2.75" fill="#dc1014"/>
<circle cx="290.48" cy="128.7" r="2.75" fill="#2fe02f"/>
<circle cx="335.66" cy="127" r="2.75" fill="#2fe02f"/>
<circle cx="335.66" cy="153.5" r="2.75" fill="#2fe02f"/>
<circle cx="335.66" cy="158.7" r="2.75" fill="#0e0e26"/>
<circle cx="335.66" cy="164.3" r="2.75" fill="#1a12c8"/>
<circle cx="335.66" cy="169.6" r="2.75" fill="#dc1014"/>
<circle cx="335.66" cy="175" r="2.75" fill="#1a12c8"/>
<circle cx="380.84" cy="51" r="2.75" fill="#2fe02f"/>
<circle cx="426.02" cy="54" r="2.75" fill="#dc1014"/>
<circle cx="426.02" cy="126.5" r="2.75" fill="#2fe02f"/>
<circle cx="471.20" cy="54" r="2.75" fill="#2fe02f"/>
<circle cx="471.20" cy="102.4" r="2.75" fill="#0c420c"/>
<circle cx="471.20" cy="150.8" r="2.75" fill="#0e0e26"/>
<circle cx="471.20" cy="158.2" r="2.75" fill="#2fe02f"/>
<circle cx="471.20" cy="166.4" r="2.75" fill="#0e0e26"/>
<circle cx="516.38" cy="150.5" r="2.75" fill="#2fe02f"/>
<circle cx="109.76" cy="287.6" r="2.75" fill="#2fe02f"/>
<circle cx="109.76" cy="298.9" r="2.75" fill="#2fe02f"/>
<circle cx="109.76" cy="310" r="2.75" fill="#2fe02f"/>
<circle cx="154.94" cy="318.7" r="2.75" fill="#2fe02f"/>
<circle cx="154.94" cy="323.7" r="2.75" fill="#2fe02f"/>
<circle cx="245.30" cy="299.3" r="2.75" fill="#2fe02f"/>
<circle cx="245.30" cy="304.6" r="2.75" fill="#0e0e26"/>
<circle cx="245.30" cy="309.6" r="2.75" fill="#2fe02f"/>
<circle cx="245.30" cy="315" r="2.75" fill="#2fe02f"/>
<circle cx="290.48" cy="287" r="2.75" fill="#dc1014"/>
<circle cx="290.48" cy="307.9" r="2.75" fill="#2fe02f"/>
<circle cx="245.30" cy="37.5" r="2.75" fill="#2fe02f"/>
<circle cx="245.30" cy="42.8" r="2.75" fill="#1a12c8"/>
<circle cx="245.30" cy="48.12" r="2.75" fill="#dc1014"/>
<circle cx="245.30" cy="53.43" r="2.75" fill="#dc1014"/>
<circle cx="245.30" cy="58.739999999999995" r="2.75" fill="#0e0e26"/>
<circle cx="245.30" cy="64.05" r="2.75" fill="#0e0e26"/>
<circle cx="245.30" cy="69.36" r="2.75" fill="#1a12c8"/>
<circle cx="245.30" cy="74.66999999999999" r="2.75" fill="#e012a2"/>
<circle cx="245.30" cy="79.97999999999999" r="2.75" fill="#dc1014"/>
<circle cx="245.30" cy="85.28999999999999" r="2.75" fill="#dc1014"/>
<circle cx="245.30" cy="90.6" r="2.75" fill="#e012a2"/>
<circle cx="245.30" cy="95.91" r="2.75" fill="#dc1014"/>
<circle cx="245.30" cy="101.22" r="2.75" fill="#dc1014"/>
<circle cx="245.30" cy="106.53" r="2.75" fill="#0e0e26"/>
<circle cx="245.30" cy="111.83999999999999" r="2.75" fill="#dc1014"/>
<circle cx="245.30" cy="117.14999999999999" r="2.75" fill="#2fe02f"/>
<circle cx="245.30" cy="122.46" r="2.75" fill="#2fe02f"/>
<circle cx="245.30" cy="127.77" r="2.75" fill="#0e0e26"/>
<circle cx="245.30" cy="133.07999999999998" r="2.75" fill="#0e0e26"/>
<circle cx="245.30" cy="138.39" r="2.75" fill="#dc1014"/>
<circle cx="245.30" cy="143.7" r="2.75" fill="#2fe02f"/>
<circle cx="245.30" cy="166.7" r="2.75" fill="#dc1014"/>
<circle cx="245.30" cy="179" r="2.75" fill="#2fe02f"/>
<circle cx="3.6" cy="400.2" r="2.7" fill="#1a12c8"/>
<text x="11.5" y="403.09999999999997" font-size="9.5" textLength="29.0" lengthAdjust="spacingAndGlyphs" fill="#1c1c1c">DLBCL</text>
<circle cx="3.6" cy="412.9" r="2.7" fill="#2fe02f"/>
<text x="11.5" y="415.79999999999995" font-size="9.5" textLength="15.5" lengthAdjust="spacingAndGlyphs" fill="#1c1c1c">CLL</text>
<circle cx="140.6" cy="400.2" r="2.7" fill="#dc1014"/>
<text x="148.5" y="403.09999999999997" font-size="9.5" textLength="11.5" lengthAdjust="spacingAndGlyphs" fill="#1c1c1c">HL</text>
<circle cx="140.6" cy="413.1" r="2.7" fill="#0e0e26"/>
<text x="148.5" y="416.0" font-size="9.5" textLength="10.5" lengthAdjust="spacingAndGlyphs" fill="#1c1c1c">FL</text>
<circle cx="277.2" cy="400.2" r="2.7" fill="#e012a2"/>
<text x="285.09999999999997" y="403.09999999999997" font-size="9.5" textLength="17.5" lengthAdjust="spacingAndGlyphs" fill="#1c1c1c">MZL</text>
<circle cx="414.2" cy="400.2" r="2.7" fill="#0c420c"/>
<text x="422.09999999999997" y="403.09999999999997" font-size="9.5" textLength="17.8" lengthAdjust="spacingAndGlyphs" fill="#1c1c1c">LYM</text>
</svg>
</body></html>
